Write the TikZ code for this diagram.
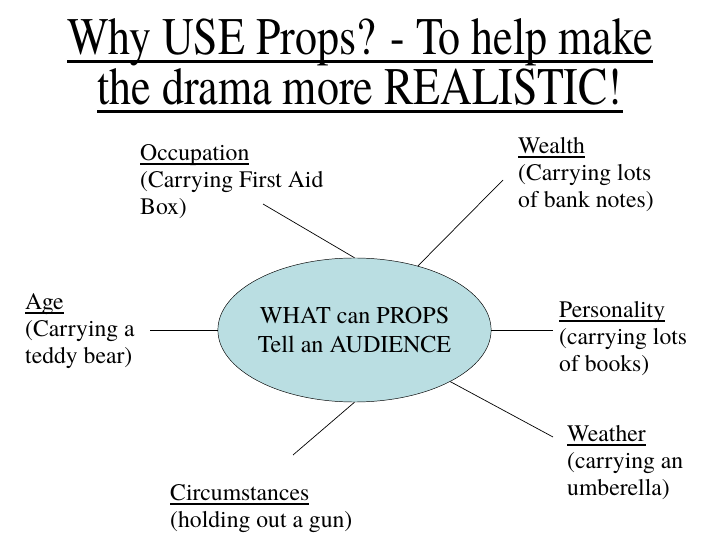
\documentclass[tikz,border=0pt]{standalone}
\usepackage{fontspec}
\setmainfont{texgyretermes}[Extension=.otf, UprightFont=*-regular, BoldFont=*-bold, ItalicFont=*-italic, BoldItalicFont=*-bolditalic]
\usetikzlibrary{shapes.geometric}
\definecolor{propsblue}{RGB}{186,222,226}
% underline: #1 gap below baseline, #2 thickness, #3 text
\newcommand{\thickul}[3]{\setbox0\hbox{#3}\rlap{\rule[-\dimexpr#1+#2\relax]{\wd0}{#2}}\box0}

\begin{document}
\begin{tikzpicture}[x=0.03cm,y=-0.03cm,
  titletext/.style={inner sep=0pt, anchor=base, font=\fontsize{37.5}{42}\selectfont},
  proptext/.style={inner sep=0pt, anchor=north west, align=left, font=\fontsize{20.2}{23}\selectfont},
  hub/.style={ellipse, draw, fill=propsblue, inner sep=0pt, minimum width=6.81cm, minimum height=4.32cm, align=center, font=\fontsize{20.6}{24.8}\selectfont},
  spoke/.style={line width=0.6pt}]
  \useasboundingbox (0,0) rectangle (720,540);
  \node[titletext] (titleA) at (360,55) {\scalebox{1}[1.2]{\thickul{3.4pt}{2.4pt}{Why USE Props? - To help make}}};
  \node[titletext] (titleB) at (360,105) {\scalebox{1}[1.2]{\thickul{3.4pt}{2.4pt}{the drama more REALISTIC!}}};

  \node[hub] (hub) at (354.5,330) {WHAT can PROPS\\Tell an AUDIENCE};

  \node[proptext] (occ) at (140,144) {\thickul{2pt}{1.7pt}{Occupation}\\(Carrying First Aid\\Box)};
  \node[proptext] (wealth) at (518,137) {\thickul{2pt}{1.7pt}{Wealth}\\(Carrying lots\\of bank notes)};
  \node[proptext] (age) at (25,293) {\thickul{2pt}{1.7pt}{Age}\\(Carrying a\\teddy bear)};
  \node[proptext] (pers) at (559,301) {\thickul{2pt}{1.7pt}{Personality}\\(carrying lots\\of books)};
  \node[proptext] (weather) at (567,425) {\thickul{2pt}{1.7pt}{Weather}\\(carrying an\\umberella)};
  \node[proptext] (circ) at (170,484) {\thickul{2pt}{1.7pt}{Circumstances}\\(holding out a gun)};

  % free ends of the spokes
  \coordinate (occEnd) at (263,204);
  \coordinate (wealthEnd) at (503,180);
  \coordinate (ageEnd) at (150,330);
  \coordinate (persEnd) at (553,330);
  \coordinate (weatherEnd) at (553,437);
  \coordinate (circEnd) at (293,455);

  \draw[spoke] (occEnd) -- (hub.north);
  \draw[spoke] (wealthEnd) -- (hub);
  \draw[spoke] (ageEnd) -- (hub.west);
  \draw[spoke] (hub.east) -- (persEnd);
  \draw[spoke] (hub) -- (weatherEnd);
  \draw[spoke] (hub.south) -- (circEnd);
\end{tikzpicture}
\end{document}
